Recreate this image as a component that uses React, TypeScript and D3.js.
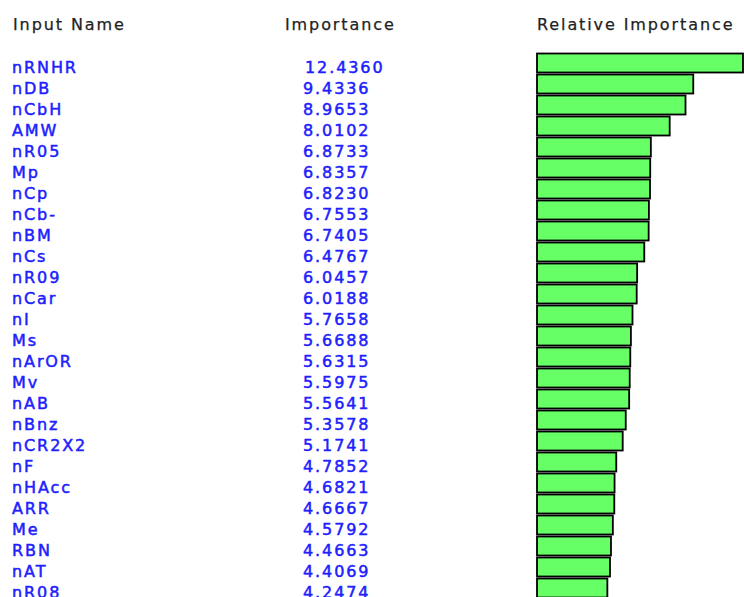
import React from "react";
import * as d3 from "d3";

const names: string[] = [
  "nRNHR", "nDB", "nCbH", "AMW", "nR05", "Mp", "nCp", "nCb-", "nBM", "nCs",
  "nR09", "nCar", "nI", "Ms", "nArOR", "Mv", "nAB", "nBnz", "nCR2X2", "nF",
  "nHAcc", "ARR", "Me", "RBN", "nAT", "nR08",
];
const importance: number[] = [
  12.436, 9.4336, 8.9653, 8.0102, 6.8733, 6.8357, 6.823, 6.7553, 6.7405, 6.4767,
  6.0457, 6.0188, 5.7658, 5.6688, 5.6315, 5.5975, 5.5641, 5.3578, 5.1741, 4.7852,
  4.6821, 4.6667, 4.5792, 4.4663, 4.4069, 4.2474,
];
const headers: string[] = ["Input Name", "Importance", "Relative Importance"];

const W = 744;
const H = 597;

export default function App() {
  const x = d3.scaleLinear().domain([0, d3.max(importance) as number]).range([0, 206]);
  const y = d3.scaleBand<number>().domain(d3.range(names.length)).range([52, 52 + 21 * names.length]).paddingInner(0);
  const font = "'DejaVu Sans', sans-serif";
  const blue = "#2020ff";
  return (
    <svg width={W} height={H} style={{ position: "absolute", left: 0, top: 0, background: "#fff" }}>
      <rect x={0} y={0} width={W} height={H} fill="#fff" />
      <g fontFamily={font} fontSize={16} fill="#222" letterSpacing={1.9} stroke="#222" strokeWidth={0.25}>
        <text x={13} y={30}>{headers[0]}</text>
        <text x={285} y={30}>{headers[1]}</text>
        <text x={537} y={30}>{headers[2]}</text>
      </g>
      <g fontFamily={font} fontSize={16} fill={blue} letterSpacing={1.9} stroke={blue} strokeWidth={0.5}>
        {names.map((n, i) => (
          <text key={n} x={12} y={(y(i) as number) + 21}>{n}</text>
        ))}
        {importance.map((v, i) => (
          <text key={i} x={i === 0 ? 305 : 303} y={(y(i) as number) + 21}>{v.toFixed(4)}</text>
        ))}
      </g>
      <g>
        {importance.map((v, i) => (
          <rect
            key={i}
            x={537}
            y={(y(i) as number) + 1.5}
            width={x(v)}
            height={19}
            fill="#66ff66"
            stroke="#000"
            strokeWidth={1.8}
          />
        ))}
      </g>
    </svg>
  );
}
